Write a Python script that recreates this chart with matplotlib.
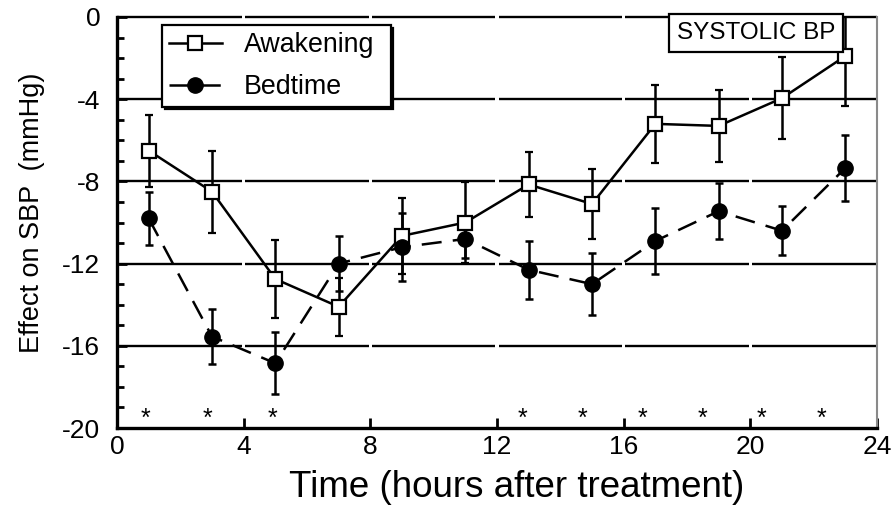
import matplotlib
matplotlib.use("Agg")
import matplotlib.pyplot as plt
from matplotlib.lines import Line2D
import numpy as np

plt.rcParams['font.family'] = ['Liberation Sans', 'DejaVu Sans']
plt.rcParams['axes.unicode_minus'] = False

# ---- data ----
hours = [1, 3, 5, 7, 9, 11, 13, 15, 17, 19, 21, 23]
awakening = [-6.5, -8.5, -12.75, -14.1, -10.65, -10.0, -8.15, -9.1, -5.2, -5.3, -3.95, -1.9]
awakening_err = [1.75, 2.0, 1.9, 1.4, 1.85, 1.95, 1.6, 1.7, 1.9, 1.75, 2.0, 2.45]
bedtime = [-9.8, -15.55, -16.85, -12.0, -11.2, -10.8, -12.3, -13.0, -10.9, -9.45, -10.4, -7.35]
bedtime_err = [1.3, 1.35, 1.5, 1.35, 1.65, 0.95, 1.4, 1.5, 1.6, 1.35, 1.2, 1.6]
sig_hours = [0.9, 2.85, 4.9, 12.8, 14.7, 16.6, 18.5, 20.35, 22.25]
sig_y = -19.92
xticks = [0, 4, 8, 12, 16, 20, 24]
yticks = [-20, -16, -12, -8, -4, 0]
grid_levels = [-16, -12, -8, -4, 0]

fig = plt.figure(figsize=(8.95, 5.08), dpi=100)
ax = fig.add_axes([117/895, 1-428/508, 760/895, 411/508])

ax.set_xlim(0, 24)
ax.set_ylim(-20, 0)

# segmented horizontal grid lines (small gaps at x ticks)
gap = 0.05
for lev in grid_levels:
    for a, b in zip(xticks[:-1], xticks[1:]):
        ax.plot([a + (gap if a > 0 else 0), b - (gap if b < 24 else 0)], [lev, lev],
                color='black', lw=1.7, solid_capstyle='butt', zorder=1, clip_on=False)

lw = 1.8
aw_style = dict(ls='-', marker='s', color='black', mfc='white', mec='black', ms=10.5, mew=1.6, lw=lw)
bd_style = dict(ls=(0, (8, 4.5)), marker='o', color='black', mfc='black', mec='black', ms=11, lw=lw)
ax.errorbar(hours, awakening, yerr=awakening_err, elinewidth=lw,
            capsize=2.8, capthick=lw, zorder=3, **aw_style)
ax.errorbar(hours, bedtime, yerr=bedtime_err, elinewidth=lw,
            capsize=2.8, capthick=lw, zorder=3, **bd_style)

for xs in sig_hours:
    ax.text(xs, sig_y, '*', ha='center', va='baseline', fontsize=18, zorder=4)

# spines
ax.spines['top'].set_visible(False)
ax.spines['left'].set_linewidth(2.4)
ax.spines['bottom'].set_linewidth(2.4)
ax.spines['right'].set_color('#8a8a8a')
ax.spines['right'].set_linewidth(1.5)

ax.set_xticks(xticks)
ax.set_yticks(yticks)
ax.set_yticks(np.arange(-20, 0, 1), minor=True)
ax.tick_params(axis='x', direction='in', length=7, width=2, labelsize=19, pad=5, top=False)
ax.tick_params(axis='y', which='major', direction='in', length=7, width=2, labelsize=19, pad=12, right=False)
ax.tick_params(axis='y', which='minor', direction='in', length=5, width=2, right=False)
ax.tick_params(axis='x', which='minor', bottom=False)

ax.set_xlabel('Time (hours after treatment)', fontsize=26.5)
ax.xaxis.set_label_coords(0.526, -0.103)
ax.set_ylabel('Effect on SBP  (mmHg)', fontsize=19.5)
ax.yaxis.set_label_coords(-0.095, 0.523)

handles = [Line2D([], [], **aw_style), Line2D([], [], **bd_style)]
leg = ax.legend(handles, ['Awakening', 'Bedtime'], loc='upper left',
                bbox_to_anchor=(0.059, 0.783, 0.301, 0.197), mode='expand', borderaxespad=0,
                fontsize=19.3, frameon=True, fancybox=False, shadow={'shade': 1.0, 'alpha': 1},
                handlelength=1.98, handletextpad=0.82, labelspacing=0.6, borderpad=0.25,
                numpoints=1)
leg.get_frame().set_edgecolor('black')
leg.get_frame().set_linewidth(1.6)
leg.set_zorder(10)

ax.text(0.841, 0.961, 'SYSTOLIC BP', transform=ax.transAxes, ha='center', va='center',
        fontsize=17.5, zorder=12, clip_on=False,
        bbox=dict(boxstyle='square,pad=0.33', fc='white', ec='black', lw=1.6))

fig.savefig('out.png', dpi=100)
